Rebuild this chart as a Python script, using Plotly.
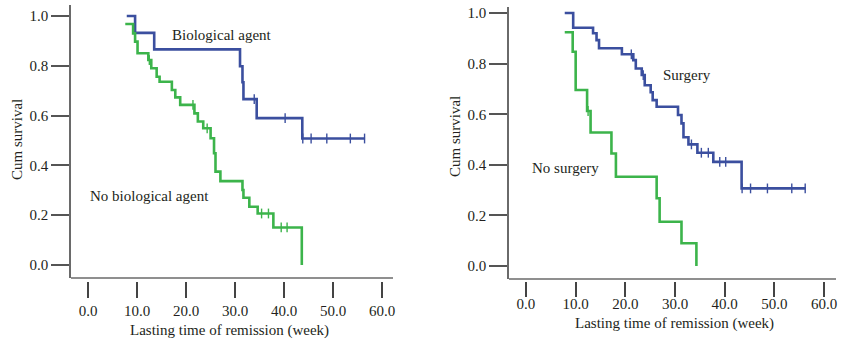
import numpy as np
import plotly.graph_objects as go

# ---------------- data ----------------
# Left panel: biological agent
bio_t = [7.9, 9.6, 13.5, 31.0, 31.5, 31.7, 34.4, 43.7, 56.5]
bio_s = [1.0, 0.932, 0.866, 0.798, 0.734, 0.666, 0.590, 0.508, 0.508]
bio_c = [33.9, 40.2, 43.8, 45.5, 48.7, 53.5, 56.4]

nobio_t = [7.6, 9.2, 9.6, 10.1, 12.3, 12.9, 14.0, 14.6, 17.1, 17.8, 18.8, 21.7,
           22.4, 23.5, 25.0, 25.7, 26.0, 27.0, 31.5, 31.7, 32.9, 34.6, 37.8, 43.6]
nobio_s = [0.968, 0.930, 0.897, 0.850, 0.823, 0.790, 0.756, 0.736, 0.703, 0.673,
           0.643, 0.609, 0.576, 0.549, 0.509, 0.449, 0.375, 0.337, 0.301, 0.270,
           0.234, 0.207, 0.151, 0.0]
nobio_c = [12.5, 21.4, 24.3, 35.4, 36.8, 39.4, 40.6]

# Right panel: surgery
surg_t = [7.8, 9.5, 13.5, 14.2, 14.7, 19.3, 21.6, 22.1, 23.3, 23.9, 25.1, 25.5,
          26.3, 30.6, 31.3, 31.7, 32.7, 34.5, 37.7, 43.4, 56.3]
surg_s = [1.0, 0.942, 0.920, 0.893, 0.861, 0.837, 0.814, 0.781, 0.755, 0.715,
          0.687, 0.656, 0.630, 0.597, 0.564, 0.509, 0.481, 0.448, 0.412, 0.307, 0.307]
surg_c = [21.2, 23.6, 33.3, 35.3, 36.7, 39.0, 40.2, 43.5, 45.2, 48.6, 53.5, 56.2]

nosurg_t = [7.8, 9.4, 10.0, 12.3, 13.0, 17.2, 18.1, 26.3, 26.9, 31.3, 34.3]
nosurg_s = [0.924, 0.847, 0.696, 0.613, 0.528, 0.445, 0.353, 0.268, 0.175, 0.090, 0.0]
nosurg_c = [12.5]

x_ticks = [0, 10, 20, 30, 40, 50, 60]
y_ticks = [0.0, 0.2, 0.4, 0.6, 0.8, 1.0]

BLUE = "#3b4f9f"
GREEN = "#3cb44b"
TXT = "#231f20"
FONT = "Liberation Serif, Times New Roman, serif"

W, H = 843, 339


def surv_at(ts, ss, c):
    idx = np.searchsorted(np.array(ts), np.array(c), side="right") - 1
    idx = np.clip(idx, 0, len(ss) - 1)
    return list(np.array(ss)[idx])


fig = go.Figure()


def add_curve(t, s, c, color, xa, ya):
    fig.add_trace(go.Scatter(x=t, y=s, mode="lines", line=dict(color=color, width=2.6, shape="hv"),
                             xaxis=xa, yaxis=ya, showlegend=False, hoverinfo="skip"))
    fig.add_trace(go.Scatter(x=c, y=surv_at(t, s, c), mode="markers",
                             marker=dict(symbol="line-ns", size=7, line=dict(color=color, width=1.4)),
                             xaxis=xa, yaxis=ya, showlegend=False, hoverinfo="skip"))


add_curve(bio_t, bio_s, bio_c, BLUE, "x", "y")
add_curve(nobio_t, nobio_s, nobio_c, GREEN, "x", "y")
add_curve(surg_t, surg_s, surg_c, BLUE, "x2", "y2")
add_curve(nosurg_t, nosurg_s, nosurg_c, GREEN, "x2", "y2")

# pixel geometry of the two panels
L = dict(x0=71, x1=393, y0=5, y1=278)
R = dict(x0=509, x1=836, y0=7, y1=279)


def px(v):
    return v / W


def py(v):
    return 1 - v / H


tickfont = dict(family=FONT, size=15, color=TXT)

xcommon = dict(tickvals=x_ticks, tickformat=".1f", ticks="outside", tickwidth=2, tickcolor="#444",
               showline=False, showgrid=False, zeroline=False, tickfont=tickfont, automargin=False,
               anchor="free", fixedrange=True)
ycommon = dict(tickvals=y_ticks, tickformat=".1f", ticks="outside", ticklen=18, tickwidth=1.5,
               tickcolor="#555", showline=True, linecolor="#6a6a6a", linewidth=1.6,
               showgrid=False, zeroline=False, tickfont=tickfont, automargin=False, fixedrange=True)

fig.update_layout(
    width=W, height=H, margin=dict(l=0, r=0, t=0, b=0),
    paper_bgcolor="white", plot_bgcolor="white",
    xaxis=dict(domain=[px(L["x0"]), px(L["x1"])], range=[-3.47, 62.2],
               position=py(L["y1"] + 2.5), ticklen=16, **xcommon),
    yaxis=dict(domain=[py(L["y1"]), py(L["y0"])], range=[-0.052, 1.044], anchor="x", **ycommon),
    xaxis2=dict(domain=[px(R["x0"]), px(R["x1"])], range=[-3.42, 62.4],
                position=py(R["y1"] + 1.5), ticklen=15, ticklabelstandoff=-6, **xcommon),
    yaxis2=dict(domain=[py(R["y1"]), py(R["y0"])], range=[-0.051, 1.024], anchor="x2", **ycommon),
)

# x axis baselines
for P in (L, R):
    fig.add_shape(type="line", xref="paper", yref="paper",
                  x0=px(P["x0"]), x1=px(P["x1"]), y0=py(P["y1"]), y1=py(P["y1"]),
                  line=dict(color="#6a6a6a", width=1.6))

lab = dict(family=FONT, size=15, color=TXT)
ann = [
    dict(text="Biological agent", x=16.7, y=0.924, xref="x", yref="y", xanchor="left", yanchor="middle"),
    dict(text="No biological agent", x=0.0, y=0.277, xref="x", yref="y", xanchor="left", yanchor="middle"),
    dict(text="Surgery", x=27.1, y=0.755, xref="x2", yref="y2", xanchor="left", yanchor="middle"),
    dict(text="No surgery", x=0.8, y=0.389, xref="x2", yref="y2", xanchor="left", yanchor="middle"),
    dict(text="Cum survival", x=px(17), y=py(140), xref="paper", yref="paper", textangle=-90,
         xanchor="center", yanchor="middle"),
    dict(text="Cum survival", x=px(455), y=py(137), xref="paper", yref="paper", textangle=-90,
         xanchor="center", yanchor="middle"),
    dict(text="Lasting time of remission (week)", x=px(229), y=py(330), xref="paper", yref="paper",
         xanchor="center", yanchor="middle"),
    dict(text="Lasting time of remission (week)", x=px(674), y=py(323), xref="paper", yref="paper",
         xanchor="center", yanchor="middle"),
]
for a in ann:
    a.update(showarrow=False, font=lab)
fig.update_layout(annotations=ann)

fig.write_html("out.html")
